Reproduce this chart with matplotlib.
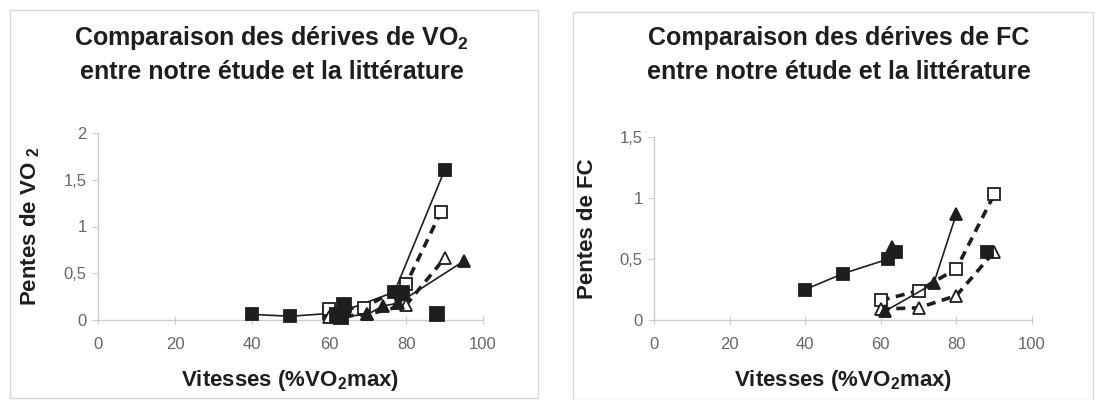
import matplotlib
matplotlib.use("Agg")
import matplotlib.pyplot as plt
from matplotlib.patches import Rectangle

plt.rcParams.update({
    "font.family": ["Liberation Sans", "DejaVu Sans"],
    "mathtext.fontset": "custom",
    "mathtext.rm": "Liberation Sans",
    "mathtext.bf": "Liberation Sans:bold",
})

# ---- VO2 drift data (left) ----
vo2_sq_fill_x = [40, 50, 60, 64, 77, 90]
vo2_sq_fill_y = [0.06, 0.04, 0.07, 0.10, 0.30, 1.60]
vo2_sq_open_x = [60, 69, 80, 89]
vo2_sq_open_y = [0.12, 0.13, 0.38, 1.15]
vo2_tri_open_x = [60, 70, 80, 90]
vo2_tri_open_y = [0.03, 0.06, 0.16, 0.66]
vo2_tri_fill_x = [62, 70, 74, 78, 95]
vo2_tri_fill_y = [0.03, 0.06, 0.15, 0.18, 0.63]
vo2_extra_x = [62, 63, 64, 79, 88]
vo2_extra_y = [0.05, 0.03, 0.16, 0.29, 0.06]

# ---- FC drift data (right) ----
fc_sq_fill_x = [40, 50, 62, 64]
fc_sq_fill_y = [0.25, 0.38, 0.50, 0.56]
fc_sq_open_x = [60, 70, 80, 90]
fc_sq_open_y = [0.16, 0.24, 0.42, 1.03]
fc_tri_open_x = [60, 70, 80, 90]
fc_tri_open_y = [0.09, 0.10, 0.20, 0.56]
fc_tri_fill_x = [61, 74, 80]
fc_tri_fill_y = [0.07, 0.30, 0.87]
fc_extra_tri_x = [63]
fc_extra_tri_y = [0.60]
fc_extra_sq_x = [88]
fc_extra_sq_y = [0.56]

INK = "#1e1e1e"
GRID = "#cccccc"
TICK = "#666666"


def style_axes(ax, ymax, yticks, ylabels):
    ax.set_xlim(0, 100)
    ax.set_ylim(0, ymax)
    ax.set_xticks([0, 20, 40, 60, 80, 100])
    ax.set_yticks(yticks)
    ax.set_yticklabels(ylabels)
    for s in ["top", "right"]:
        ax.spines[s].set_visible(False)
    for s in ["left", "bottom"]:
        ax.spines[s].set_color(GRID)
        ax.spines[s].set_linewidth(1.0)
    ax.tick_params(axis="x", direction="inout", length=6, color=GRID, labelcolor=TICK,
                   labelsize=12, pad=9)
    ax.tick_params(axis="y", direction="out", length=4, color=GRID, labelcolor=TICK,
                   labelsize=12, pad=4)
    ax.set_xlabel(r"Vitesses (%VO$_\mathbf{2}$max)", fontsize=16, fontweight="bold",
                  color=INK, labelpad=12)


def series(ax, x, y, marker, filled, ls, lw, ms=8.5):
    ax.plot(x, y, color=INK, ls=ls, lw=lw, marker=marker, ms=ms,
            mfc=INK if filled else "white", mec=INK, mew=1.3, clip_on=False, zorder=3)


fig = plt.figure(figsize=(10.96, 4.0), dpi=100)

# panel frames
fig.patches.append(Rectangle((10 / 1096, 2 / 400), 528 / 1096, 388 / 400, transform=fig.transFigure,
                             fill=False, ec="#d8d8d8", lw=1.0))
fig.patches.append(Rectangle((573 / 1096, 0 / 400), 520 / 1096, 388 / 400, transform=fig.transFigure,
                             fill=False, ec="#d8d8d8", lw=1.0))

# left panel
ax1 = fig.add_axes([0.0894, 0.2, 0.3513, 0.4675])
style_axes(ax1, 2, [0, 0.5, 1, 1.5, 2], ["0", "0,5", "1", "1,5", "2"])
series(ax1, vo2_sq_fill_x, vo2_sq_fill_y, "s", True, "-", 1.2, ms=9)
series(ax1, vo2_sq_open_x, vo2_sq_open_y, "s", False, (0, (2.5, 1.8)), 2.6)
series(ax1, vo2_tri_open_x, vo2_tri_open_y, "^", False, (0, (2.5, 1.8)), 2.6)
series(ax1, vo2_tri_fill_x, vo2_tri_fill_y, "^", True, "-", 1.2)
series(ax1, vo2_extra_x, vo2_extra_y, "s", True, "none", 0, ms=10.5)
ax1.set_ylabel(r"Pentes de VO $_\mathbf{2}$", fontsize=16, fontweight="bold", color=INK, labelpad=16)
fig.text(0.248, 0.905, r"Comparaison des dérives de VO$_\mathbf{2}$", ha="center", va="center",
         fontsize=18, fontweight="bold", color=INK)
fig.text(0.248, 0.82, "entre notre étude et la littérature", ha="center", va="center",
         fontsize=18, fontweight="bold", color=INK)

# right panel
ax2 = fig.add_axes([0.5967, 0.2, 0.3449, 0.4575])
style_axes(ax2, 1.5, [0, 0.5, 1, 1.5], ["0", "0,5", "1", "1,5"])
series(ax2, fc_sq_fill_x, fc_sq_fill_y, "s", True, "-", 1.2, ms=9)
series(ax2, fc_sq_open_x, fc_sq_open_y, "s", False, (0, (2.5, 1.8)), 2.6)
series(ax2, fc_tri_open_x, fc_tri_open_y, "^", False, (0, (2.5, 1.8)), 2.6)
series(ax2, fc_tri_fill_x, fc_tri_fill_y, "^", True, "-", 1.2)
series(ax2, fc_extra_tri_x, fc_extra_tri_y, "^", True, "none", 0, ms=9)
series(ax2, fc_extra_sq_x, fc_extra_sq_y, "s", True, "none", 0, ms=9)
ax2.set_ylabel("Pentes de FC", fontsize=16, fontweight="bold", color=INK, labelpad=16)
fig.text(0.765, 0.905, "Comparaison des dérives de FC", ha="center", va="center",
         fontsize=18, fontweight="bold", color=INK)
fig.text(0.765, 0.82, "entre notre étude et la littérature", ha="center", va="center",
         fontsize=18, fontweight="bold", color=INK)

fig.savefig("out.png", dpi=100)
